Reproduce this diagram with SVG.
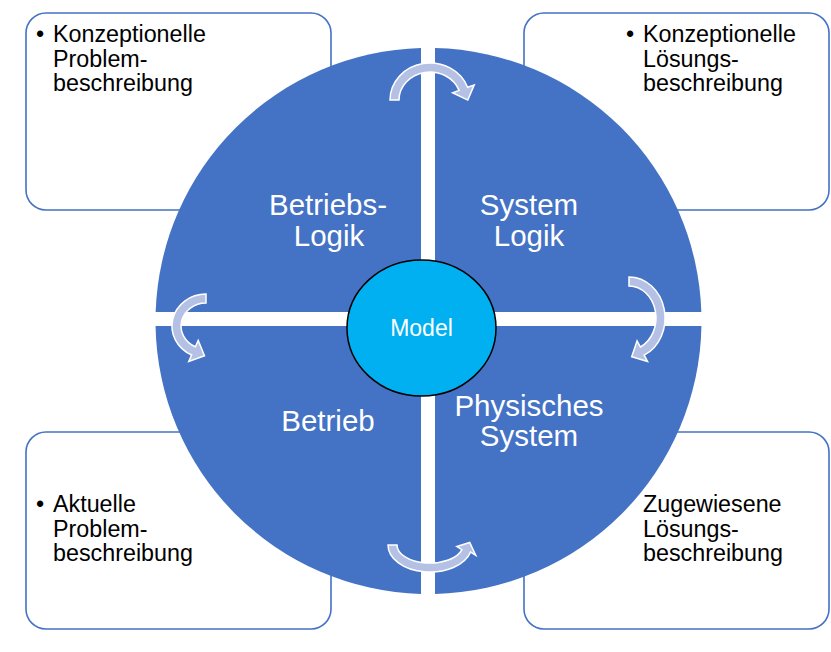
<svg xmlns="http://www.w3.org/2000/svg" width="831" height="652" viewBox="0 0 831 652">
<style>
.box{fill:#fff;stroke:#4472C4;stroke-width:1.6}
.quad{fill:#4472C4}
.qt{font-family:"Liberation Sans",Arial,sans-serif;font-size:29.5px;fill:#fff;text-anchor:middle}
.bt{font-family:"Liberation Sans",Arial,sans-serif;font-size:23.3px;fill:#000}
.arr{fill:#B4C1E4;stroke:#fff;stroke-width:1.5;stroke-linejoin:miter}
</style>
<rect width="831" height="652" fill="#fff"/>
<g id="box-tl"><rect class="box" x="26" y="13" width="305" height="197" rx="20"/>
<text class="bt" x="36" y="42">•</text>
<text class="bt"><tspan x="53" y="42">Konzeptionelle</tspan><tspan x="53" y="66.5">Problem-</tspan><tspan x="53" y="91">beschreibung</tspan></text></g>
<g id="box-tr"><rect class="box" x="524" y="13" width="305" height="197" rx="20"/>
<text class="bt" x="626" y="42">•</text>
<text class="bt"><tspan x="643" y="42">Konzeptionelle</tspan><tspan x="643" y="66.5">Lösungs-</tspan><tspan x="643" y="91">beschreibung</tspan></text></g>
<g id="box-bl"><rect class="box" x="26" y="432" width="305" height="197" rx="20"/>
<text class="bt" x="36" y="512">•</text>
<text class="bt"><tspan x="53" y="512">Aktuelle</tspan><tspan x="53" y="536.5">Problem-</tspan><tspan x="53" y="561">beschreibung</tspan></text></g>
<g id="box-br"><rect class="box" x="524" y="432" width="305" height="197" rx="20"/>
<text class="bt"><tspan x="643" y="512">Zugewiesene</tspan><tspan x="643" y="536.5">Lösungs-</tspan><tspan x="643" y="561">beschreibung</tspan></text></g>
<g id="q-betriebslogik"><path class="quad" d="M421,312 L155.65,312 A273,273 0 0 1 421,48.1 Z"/>
<text class="qt"><tspan x="328" y="215">Betriebs-</tspan><tspan x="329" y="246">Logik</tspan></text></g>
<g id="q-systemlogik"><path class="quad" d="M435,312 L435,48.08 A273,273 0 0 1 701.35,312 Z"/>
<text class="qt"><tspan x="529" y="215">System</tspan><tspan x="529" y="246">Logik</tspan></text></g>
<g id="q-betrieb"><path class="quad" d="M421,326 L421,593.9 A273,273 0 0 1 155.55,326 Z"/>
<text class="qt" x="328" y="431">Betrieb</text></g>
<g id="q-physisches"><path class="quad" d="M435,326 L701.45,326 A273,273 0 0 1 435,593.92 Z"/>
<text class="qt"><tspan x="529" y="416">Physisches</tspan><tspan x="529" y="446">System</tspan></text></g>
<g id="model"><ellipse cx="421.5" cy="328" rx="74.5" ry="68" fill="#00B0F0" stroke="#000" stroke-width="1.5"/>
<text x="421.5" y="336" font-family="Liberation Sans,Arial,sans-serif" font-size="23" fill="#fff" text-anchor="middle">Model</text></g>
<g id="connectors">
<path class="arr" d="M390,100 A40,37 0 0 1 467.6,87.3 L474.2,85 L467.8,100.1 L452.6,92.8 L459.1,90.4 A31,28 0 0 0 399,100 Z"/>
<path class="arr" d="M629,277 A36,41 0 0 1 644.2,355.2 L647.5,361.4 L631.7,356.7 L637.1,340.8 L640.4,347 A27,32 0 0 0 629,286 Z"/>
<path class="arr" d="M388,545 A42,27 0 0 0 470.6,552 L475.7,555.2 L469.7,542.5 L456.8,546.5 L461.9,549.7 A33,18 0 0 1 397,545 Z"/>
<path class="arr" d="M206,294 A34,32 0 0 0 191.6,355 L188.8,361.4 L204.5,355.7 L198.2,340.4 L195.4,346.8 A25,23 0 0 1 206,303 Z"/>
</g>
</svg>
